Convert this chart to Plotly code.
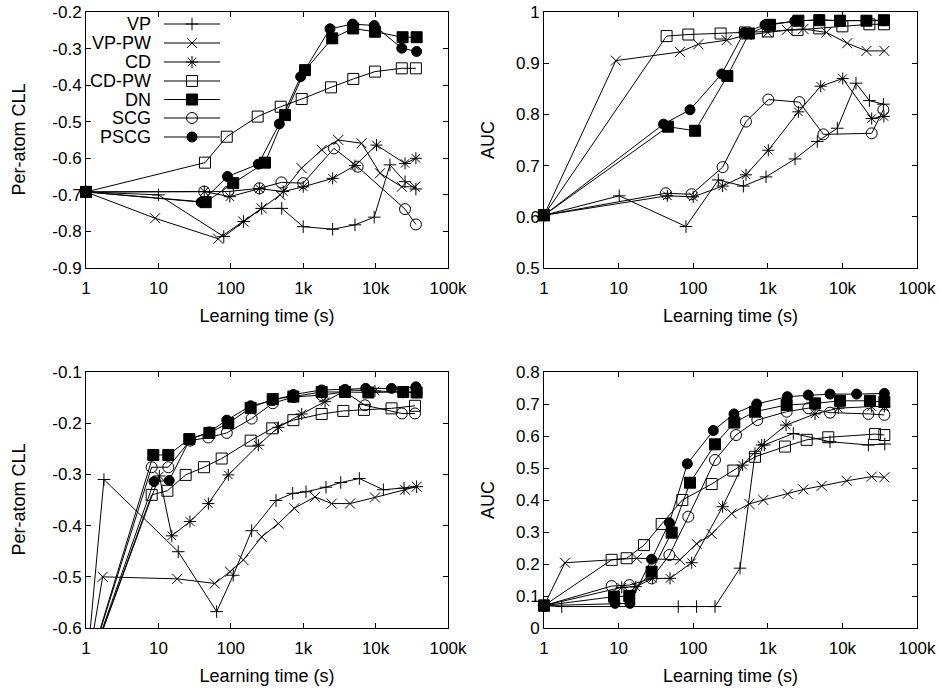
import plotly.graph_objects as go

# ---------------- data ----------------
SERIES = ["VP", "VP-PW", "CD", "CD-PW", "DN", "SCG", "PSCG"]

# Top-left: Per-atom CLL
tl_vp_x = [1, 10, 80, 150, 267, 505, 1000, 2550, 5190, 9560, 15800, 25500, 36000]
tl_vp_y = [-0.692, -0.70, -0.814, -0.773, -0.737, -0.737, -0.787, -0.794, -0.782, -0.761, -0.618, -0.664, -0.684]
tl_vppw_x = [1, 9, 67, 149, 267, 480, 950, 1800, 3050, 6400, 11500, 23000, 35000]
tl_vppw_y = [-0.692, -0.764, -0.82, -0.773, -0.737, -0.70, -0.627, -0.577, -0.55, -0.559, -0.641, -0.678, -0.678]
tl_cd_x = [1, 43, 97, 248, 531, 1000, 2550, 5190, 10300, 25500, 36000]
tl_cd_y = [-0.692, -0.691, -0.705, -0.683, -0.691, -0.678, -0.655, -0.620, -0.564, -0.614, -0.600]
tl_cdpw_x = [1, 44, 88, 235, 489, 953, 2420, 4920, 9800, 23000, 36000]
tl_cdpw_y = [-0.692, -0.612, -0.541, -0.486, -0.459, -0.438, -0.406, -0.383, -0.363, -0.354, -0.354]
tl_dn_x = [1, 45, 108, 297, 560, 1060, 2520, 4900, 9800, 23600, 36900]
tl_dn_y = [-0.692, -0.720, -0.668, -0.612, -0.482, -0.359, -0.272, -0.245, -0.254, -0.269, -0.269]
tl_scg_x = [1, 43, 92, 248, 500, 1000, 2660, 5650, 25500, 36000]
tl_scg_y = [-0.692, -0.691, -0.691, -0.682, -0.666, -0.668, -0.573, -0.623, -0.739, -0.781]
tl_pscg_x = [1, 39, 90, 240, 468, 922, 2345, 4820, 9570, 23000, 36900]
tl_pscg_y = [-0.692, -0.720, -0.650, -0.616, -0.506, -0.377, -0.246, -0.233, -0.237, -0.299, -0.308]

# Top-right: AUC
tr_vp_x = [1, 10.2, 80, 217, 470, 946, 2318, 4610, 8550, 15200, 23000, 35400]
tr_vp_y = [0.603, 0.641, 0.581, 0.672, 0.660, 0.678, 0.713, 0.747, 0.773, 0.861, 0.827, 0.820]
tr_vppw_x = [1, 9.2, 66.5, 117, 281, 520, 1000, 1800, 3000, 6100, 11600, 21000, 36500]
tr_vppw_y = [0.603, 0.905, 0.922, 0.937, 0.945, 0.955, 0.960, 0.965, 0.967, 0.960, 0.939, 0.924, 0.924]
tr_cd_x = [1, 45, 100, 248, 510, 1016, 2570, 5120, 10100, 24700, 36000]
tr_cd_y = [0.603, 0.641, 0.639, 0.660, 0.682, 0.730, 0.805, 0.855, 0.870, 0.792, 0.796]
tr_cdpw_x = [1, 44, 86, 233, 495, 1000, 2500, 4900, 10000, 23000, 36000]
tr_cdpw_y = [0.603, 0.953, 0.956, 0.958, 0.960, 0.962, 0.965, 0.968, 0.972, 0.976, 0.976]
tr_dn_x = [1, 46, 106, 287, 560, 1070, 2570, 4900, 9300, 21000, 36000]
tr_dn_y = [0.603, 0.776, 0.768, 0.875, 0.958, 0.975, 0.983, 0.984, 0.983, 0.983, 0.984]
tr_scg_x = [1, 43, 95, 248, 510, 1016, 2650, 5560, 24700, 35400]
tr_scg_y = [0.603, 0.646, 0.644, 0.697, 0.786, 0.829, 0.824, 0.761, 0.763, 0.809]
tr_pscg_x = [1, 40, 90.6, 241, 480, 918, 2300, 4900, 9300, 21000, 36000]
tr_pscg_y = [0.603, 0.781, 0.809, 0.879, 0.960, 0.975, 0.982, 0.985, 0.983, 0.983, 0.983]

# Bottom-left: Per-atom CLL
bl_vp_x = [1, 1.77, 18.8, 63.8, 108, 194, 421, 716, 1093, 2065, 3300, 5960, 12800, 24700, 36900]
bl_vp_y = [-0.693, -0.310, -0.451, -0.568, -0.497, -0.410, -0.351, -0.337, -0.334, -0.325, -0.316, -0.308, -0.330, -0.327, -0.324]
bl_vppw_x = [1, 1.7, 18.2, 60, 97.5, 149, 267, 454, 754, 1456, 2475, 4430, 9800, 25500, 36900]
bl_vppw_y = [-0.693, -0.500, -0.504, -0.513, -0.490, -0.467, -0.422, -0.396, -0.366, -0.344, -0.357, -0.357, -0.345, -0.330, -0.324]
bl_cd_x = [1, 10.3, 15.3, 27.3, 49, 92.4, 240, 454, 953, 2000, 3990, 9800, 24000, 36900]
bl_cd_y = [-0.693, -0.303, -0.420, -0.392, -0.357, -0.301, -0.243, -0.208, -0.182, -0.158, -0.135, -0.137, -0.140, -0.140]
bl_cdpw_x = [1, 8.07, 13.3, 23.8, 42.6, 74.8, 188, 374, 731, 1800, 3580, 6920, 16600, 35000]
bl_cdpw_y = [-0.693, -0.340, -0.332, -0.301, -0.286, -0.269, -0.234, -0.210, -0.194, -0.182, -0.176, -0.174, -0.171, -0.166]
bl_dn_x = [1, 8.5, 13.7, 26.7, 50.6, 92.4, 188, 379, 731, 1800, 3780, 7940, 24100, 36900]
bl_dn_y = [-0.693, -0.262, -0.262, -0.231, -0.219, -0.200, -0.170, -0.153, -0.148, -0.139, -0.139, -0.140, -0.139, -0.140]
bl_scg_x = [1, 8.07, 13.7, 27.3, 49, 88, 194, 380, 731, 1800, 3780, 7130, 23000, 35000]
bl_scg_y = [-0.693, -0.286, -0.286, -0.234, -0.228, -0.219, -0.191, -0.161, -0.149, -0.145, -0.139, -0.165, -0.181, -0.181]
bl_pscg_x = [1, 8.7, 14.1, 27.3, 50.6, 88, 188, 379, 731, 1800, 3780, 7300, 16600, 36000]
bl_pscg_y = [-0.693, -0.314, -0.312, -0.231, -0.217, -0.194, -0.166, -0.156, -0.144, -0.135, -0.134, -0.132, -0.132, -0.129]

# Bottom-right: AUC
br_vp_x = [1, 1.73, 63, 111, 196, 424, 674, 898, 2197, 6820, 22300, 37000]
br_vp_y = [0.07, 0.067, 0.067, 0.067, 0.067, 0.187, 0.545, 0.572, 0.608, 0.582, 0.572, 0.575]
br_vppw_x = [1, 1.91, 17.5, 66.5, 111, 177, 328, 565, 871, 1846, 2993, 5270, 11400, 24700, 36500]
br_vppw_y = [0.07, 0.204, 0.218, 0.213, 0.263, 0.294, 0.358, 0.388, 0.400, 0.419, 0.433, 0.444, 0.460, 0.473, 0.471]
br_cd_x = [1, 11, 17, 28.6, 48.9, 95.4, 248, 460, 828, 1754, 4300, 8810, 24700, 36500]
br_cd_y = [0.07, 0.127, 0.129, 0.155, 0.155, 0.204, 0.379, 0.509, 0.572, 0.634, 0.669, 0.687, 0.692, 0.692]
br_cdpw_x = [1, 8.07, 12.8, 21.9, 37.8, 71.5, 177, 345, 674, 1700, 3320, 6470, 27400, 36500]
br_cdpw_y = [0.07, 0.213, 0.218, 0.259, 0.325, 0.400, 0.450, 0.492, 0.535, 0.567, 0.588, 0.596, 0.606, 0.603]
br_dn_x = [1, 8.7, 13.9, 27.7, 51.5, 90.6, 196, 356, 674, 1790, 4300, 9290, 23400, 36500]
br_dn_y = [0.07, 0.098, 0.100, 0.176, 0.298, 0.454, 0.574, 0.642, 0.676, 0.697, 0.702, 0.710, 0.710, 0.706]
br_scg_x = [1, 8.07, 13.9, 27.7, 47.9, 86, 196, 375, 724, 1790, 3490, 6820, 22300, 36500]
br_scg_y = [0.07, 0.131, 0.134, 0.155, 0.228, 0.348, 0.525, 0.603, 0.650, 0.676, 0.687, 0.673, 0.669, 0.666]
br_pscg_x = [1, 8.95, 14.2, 27.7, 47.9, 83.4, 186, 352, 710, 1827, 3490, 6820, 15500, 36500]
br_pscg_y = [0.07, 0.077, 0.077, 0.215, 0.329, 0.513, 0.617, 0.669, 0.700, 0.723, 0.728, 0.731, 0.731, 0.733]

x_tickvals = [1, 10, 100, 1000, 10000, 100000]
x_ticktext = ["1", "10", "100", "1k", "10k", "100k"]
tl_yticks = [-0.9, -0.8, -0.7, -0.6, -0.5, -0.4, -0.3, -0.2]
tl_ytext = ["-0.9", "-0.8", "-0.7", "-0.6", "-0.5", "-0.4", "-0.3", "-0.2"]
tr_yticks = [0.5, 0.6, 0.7, 0.8, 0.9, 1.0]
tr_ytext = ["0.5", "0.6", "0.7", "0.8", "0.9", "1"]
bl_yticks = [-0.6, -0.5, -0.4, -0.3, -0.2, -0.1]
bl_ytext = ["-0.6", "-0.5", "-0.4", "-0.3", "-0.2", "-0.1"]
br_yticks = [0, 0.1, 0.2, 0.3, 0.4, 0.5, 0.6, 0.7, 0.8]
br_ytext = ["0", "0.1", "0.2", "0.3", "0.4", "0.5", "0.6", "0.7", "0.8"]

# ---------------- styles ----------------
SYMBOL = {"VP": ("cross-thin-open", 9), "VP-PW": ("x-thin-open", 10),
          "CD": ("asterisk-open", 10), "CD-PW": ("square-open", 11),
          "DN": ("square", 11), "SCG": ("circle-open", 11), "PSCG": ("circle", 10)}
FONT = "Liberation Sans, Arial, Helvetica, sans-serif"
TICK_SIZE = 17
TITLE_SIZE = 18
W, H = 940, 690

panels = [
    ("x", "y", [(tl_vp_x, tl_vp_y), (tl_vppw_x, tl_vppw_y), (tl_cd_x, tl_cd_y), (tl_cdpw_x, tl_cdpw_y),
                (tl_dn_x, tl_dn_y), (tl_scg_x, tl_scg_y), (tl_pscg_x, tl_pscg_y)], False),
    ("x2", "y2", [(tr_vp_x, tr_vp_y), (tr_vppw_x, tr_vppw_y), (tr_cd_x, tr_cd_y), (tr_cdpw_x, tr_cdpw_y),
                  (tr_dn_x, tr_dn_y), (tr_scg_x, tr_scg_y), (tr_pscg_x, tr_pscg_y)], False),
    ("x3", "y3", [(bl_vp_x, bl_vp_y), (bl_vppw_x, bl_vppw_y), (bl_cd_x, bl_cd_y), (bl_cdpw_x, bl_cdpw_y),
                  (bl_dn_x, bl_dn_y), (bl_scg_x, bl_scg_y), (bl_pscg_x, bl_pscg_y)], True),
    ("x4", "y4", [(br_vp_x, br_vp_y), (br_vppw_x, br_vppw_y), (br_cd_x, br_cd_y), (br_cdpw_x, br_cdpw_y),
                  (br_dn_x, br_dn_y), (br_scg_x, br_scg_y), (br_pscg_x, br_pscg_y)], False),
]

fig = go.Figure()
for xa, ya, data, clip in panels:
    for name, (xs, ys) in zip(SERIES, data):
        sym, sz = SYMBOL[name]
        fig.add_trace(go.Scatter(
            x=xs, y=ys, xaxis=xa, yaxis=ya, mode="lines+markers", name=name,
            showlegend=False, cliponaxis=clip,
            line=dict(color="black", width=1),
            marker=dict(symbol=sym, size=sz, color="black",
                        line=dict(color="black", width=1)),
        ))

# legend (gnuplot style: text, then sample) drawn on an auxiliary pixel axis
leg_y = [24, 43, 62, 81, 99.5, 118, 137]
for name, yy in zip(SERIES, leg_y):
    sym, sz = SYMBOL[name]
    fig.add_trace(go.Scatter(x=[164, 220], y=[yy, yy], xaxis="x5", yaxis="y5", mode="lines",
                             line=dict(color="black", width=1), showlegend=False, cliponaxis=False))
    fig.add_trace(go.Scatter(x=[192], y=[yy], xaxis="x5", yaxis="y5", mode="markers", cliponaxis=False,
                             marker=dict(symbol=sym, size=sz, color="black",
                                         line=dict(color="black", width=1)), showlegend=False))
    fig.add_annotation(x=153 / W, y=1 - yy / H, xref="paper", yref="paper", text=name,
                       showarrow=False, xanchor="right", yanchor="middle",
                       font=dict(family=FONT, size=TITLE_SIZE, color="black"))

dom_x = {"L": [86 / W, 448 / W], "R": [544 / W, 917 / W]}
dom_y = {"T": [1 - 268 / H, 1 - 12 / H], "B": [1 - 628 / H, 1 - 372 / H]}

# y-axis titles as rotated annotations
for title, xpx, dom in [("Per-atom CLL", 18.5, dom_y["T"]), ("AUC", 488, dom_y["T"]),
                        ("Per-atom CLL", 18.5, dom_y["B"]), ("AUC", 488, dom_y["B"])]:
    fig.add_annotation(x=xpx / W, y=(dom[0] + dom[1]) / 2, xref="paper", yref="paper",
                       text=title, textangle=-90, showarrow=False,
                       xanchor="center", yanchor="middle",
                       font=dict(family=FONT, size=TITLE_SIZE, color="black"))

def xaxis(dom, anchor):
    return dict(type="log", domain=dom, anchor=anchor, range=[0, 5],
                tickvals=x_tickvals, ticktext=x_ticktext,
                ticks="inside", ticklen=5, tickcolor="black", showline=True, linecolor="black",
                linewidth=1, mirror="ticks", showgrid=False, zeroline=False, automargin=False,
                ticklabelstandoff=5,
                tickfont=dict(family=FONT, size=TICK_SIZE, color="black"),
                title=dict(text="Learning time (s)", standoff=11,
                           font=dict(family=FONT, size=TITLE_SIZE, color="black")))

def yaxis(dom, anchor, rng, tv, tt):
    return dict(domain=dom, anchor=anchor, range=rng, tickvals=tv, ticktext=tt,
                ticksuffix="\u00a0",
                ticks="inside", ticklen=5, tickcolor="black", showline=True, linecolor="black",
                linewidth=1, mirror="ticks", showgrid=False, zeroline=False, automargin=False,
                tickfont=dict(family=FONT, size=TICK_SIZE, color="black"))

fig.update_layout(
    width=W, height=H, margin=dict(l=0, r=0, t=0, b=0, pad=0, autoexpand=False),
    paper_bgcolor="white", plot_bgcolor="rgba(0,0,0,0)", showlegend=False,
    xaxis=xaxis(dom_x["L"], "y"),
    yaxis=yaxis(dom_y["T"], "x", [-0.9, -0.2], tl_yticks, tl_ytext),
    xaxis2=xaxis(dom_x["R"], "y2"),
    yaxis2=yaxis(dom_y["T"], "x2", [0.5, 1.0], tr_yticks, tr_ytext),
    xaxis3=xaxis(dom_x["L"], "y3"),
    yaxis3=yaxis(dom_y["B"], "x3", [-0.6, -0.1], bl_yticks, bl_ytext),
    xaxis4=xaxis(dom_x["R"], "y4"),
    yaxis4=yaxis(dom_y["B"], "x4", [0, 0.8], br_yticks, br_ytext),
    xaxis5=dict(domain=[0, 1], anchor="y5", range=[0, W], visible=False, fixedrange=True),
    yaxis5=dict(domain=[0, 1], anchor="x5", range=[H, 0], visible=False, fixedrange=True),
)

fig.write_html("out.html", config={"displayModeBar": False},
               post_script="document.body.style.margin='0px';")
